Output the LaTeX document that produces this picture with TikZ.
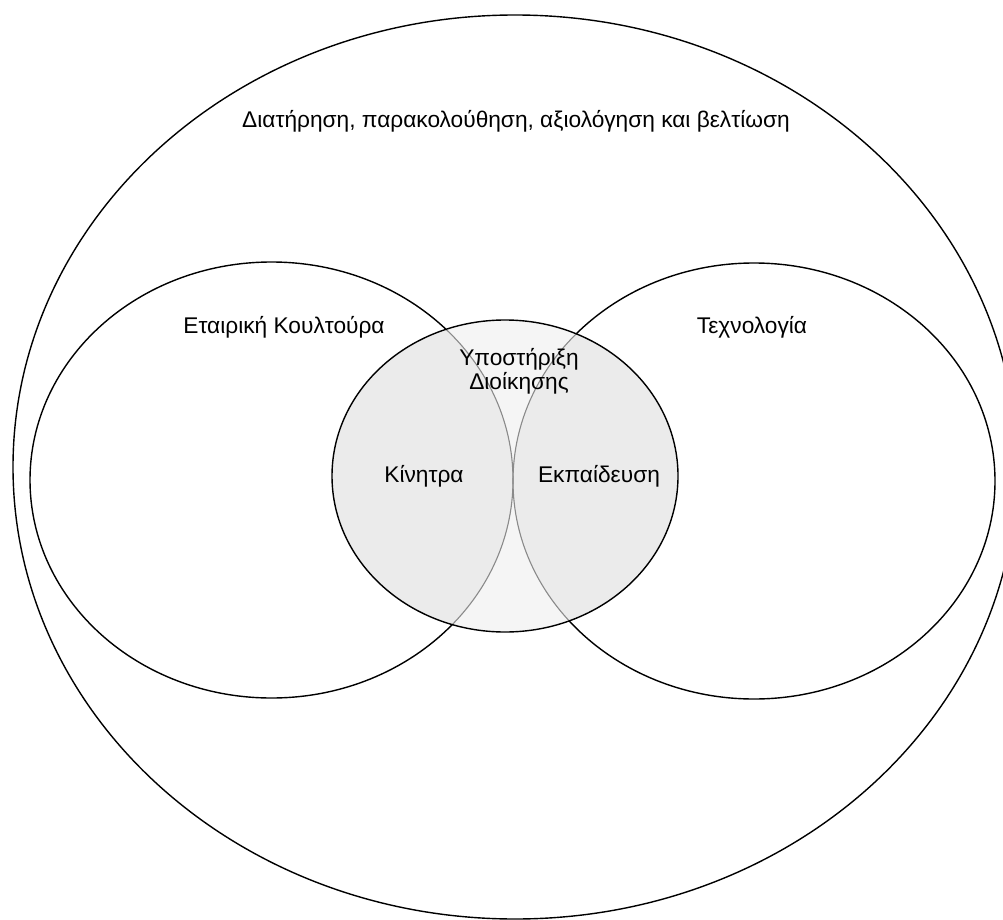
\documentclass[tikz,border=0pt]{standalone}
\usepackage{fontspec}
\setmainfont{Liberation Sans}
\definecolor{midfill}{HTML}{EBEBEB}
\definecolor{lensfill}{HTML}{F5F5F5}
\definecolor{innerline}{HTML}{8A8A8A}
\tikzset{
  outline/.style={draw=black, line width=1.4pt},
  lbl/.style={font=\fontsize{22.7}{26}\selectfont, inner sep=0pt, align=center},
}
\begin{document}
\begin{tikzpicture}[x=1pt,y=-1pt]
\useasboundingbox (0,0) rectangle (1003,920);
\clip (0,0) rectangle (1003,920);
% outer ellipse
\draw[outline] (515,467) ellipse [x radius=502, y radius=452];
% left and right ellipses
\draw[outline] (271.5,480) ellipse [x radius=241.5, y radius=218];
\draw[outline] (754,481) ellipse [x radius=241, y radius=218];
% central circle fill
\fill[lensfill] (505,476) ellipse [x radius=173, y radius=156];
\begin{scope}
  \clip (505,476) ellipse [x radius=173, y radius=156];
  \fill[midfill] (271.5,480) ellipse [x radius=241.5, y radius=218];
  \fill[midfill] (754,481) ellipse [x radius=241, y radius=218];
  \draw[innerline, line width=1.1pt] (271.5,480) ellipse [x radius=241.5, y radius=218];
  \draw[innerline, line width=1.1pt] (754,481) ellipse [x radius=241, y radius=218];
\end{scope}
\draw[outline] (505,476) ellipse [x radius=173, y radius=156];
% labels
\node[lbl, anchor=base] (outer) at (516,128) {Διατήρηση, παρακολούθηση, αξιολόγηση και βελτίωση};
\node[lbl, anchor=base] (culture) at (284,333) {Εταιρική Κουλτούρα};
\node[lbl, anchor=base] (tech) at (752,333) {Τεχνολογία};
\node[lbl, anchor=base] (support) at (519,365) {Υποστήριξη};
\node[lbl, anchor=base] (support2) at (519,389) {Διοίκησης};
\node[lbl, anchor=base] (incent) at (424,482) {Κίνητρα};
\node[lbl, anchor=base] (train) at (599,482) {Εκπαίδευση};
\end{tikzpicture}
\end{document}
